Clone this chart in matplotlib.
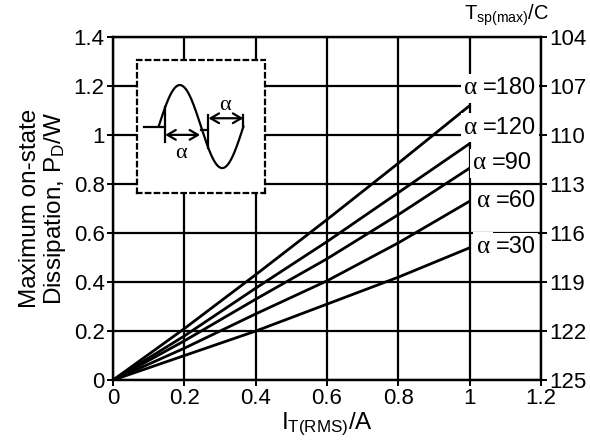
import numpy as np
import matplotlib.pyplot as plt

plt.rcParams['font.family'] = ['Liberation Sans', 'DejaVu Sans']
plt.rcParams['mathtext.fontset'] = 'custom'
plt.rcParams['mathtext.rm'] = 'Liberation Sans'
plt.rcParams['mathtext.it'] = 'Liberation Sans:italic'

# on-state current (A) and dissipation (W)
current = [0.0, 0.2, 0.4, 0.6, 0.8, 1.0]
angles = ['180', '120', '90', '60', '30']
p180 = [0.0, 0.21, 0.43, 0.655, 0.885, 1.12]
p120 = [0.0, 0.18, 0.375, 0.565, 0.765, 0.965]
p90 = [0.0, 0.16, 0.33, 0.495, 0.675, 0.865]
p60 = [0.0, 0.13, 0.27, 0.405, 0.56, 0.73]
p30 = [0.0, 0.10, 0.20, 0.31, 0.42, 0.54]
curves = [p180, p120, p90, p60, p30]
# where each alpha label sits (x, y in data units)
label_x = [0.985, 0.985, 1.01, 1.02, 1.02]
label_y = [1.19, 1.03, 0.885, 0.73, 0.545]

xticks = [0, 0.2, 0.4, 0.6, 0.8, 1, 1.2]
yticks = [0, 0.2, 0.4, 0.6, 0.8, 1, 1.2, 1.4]
tticks = [125, 122, 119, 116, 113, 110, 107, 104]

fig = plt.figure(figsize=(5.9, 4.43), dpi=100)
ax = fig.add_axes([0.1915, 0.142, 0.7255, 0.7745])

for p in curves:
    ax.plot(current, p, color='black', lw=2.0, zorder=3, solid_capstyle='butt')

ax.set_xlim(0, 1.2)
ax.set_ylim(0, 1.4)
ax.set_xticks(xticks)
ax.set_xticklabels(['0', '0.2', '0.4', '0.6', '0.8', '1', '1.2'])
ax.set_yticks(yticks)
ax.set_yticklabels(['0', '0.2', '0.4', '0.6', '0.8', '1', '1.2', '1.4'])
ax.grid(True, color='black', lw=1.6)
ax.set_axisbelow(True)
for s in ax.spines.values():
    s.set_linewidth(1.6)
ax.tick_params(labelsize=16, direction='out', length=4, width=1.4, pad=2)

ax.set_xlabel(r'I$_{\mathrm{T(RMS)}}$/A', fontsize=17.5, labelpad=1)
ax.set_ylabel('Maximum on-state\nDissipation, P$_{\\mathrm{D}}$/W', fontsize=17.5, labelpad=4, linespacing=1.05)

ax2 = ax.twinx()
ax2.set_ylim(125, 104)
ax2.set_yticks(tticks)
ax2.set_yticklabels([str(t) for t in tticks])
ax2.tick_params(labelsize=16, direction='out', length=4, width=1.4, pad=2)
for s in ax2.spines.values():
    s.set_linewidth(1.6)
fig.text(0.858, 0.966, r'T$_{\mathrm{sp(max)}}$/C', fontsize=14.5, ha='center', va='center')

for a, lx, ly in zip(angles, label_x, label_y):
    ax.annotate('=' + a, xy=(lx, ly), xytext=(13.5, 0), textcoords='offset points',
                fontsize=17, va='center', ha='left', zorder=5,
                bbox=dict(facecolor='white', edgecolor='none', pad=2.0))
    ax.text(lx, ly, 'α', family=['Liberation Serif'], fontsize=18, va='center', ha='left',
            zorder=6, bbox=dict(facecolor='white', edgecolor='none', pad=2.5))

# inset sketch of the phase-controlled waveform
ins = fig.add_axes([0.2322, 0.5643, 0.217, 0.300], zorder=4)
ins.set_facecolor('white')
ins.set_xlim(20, 405)
ins.set_ylim(-200, 200)
ins.set_xticks([])
ins.set_yticks([])
for s in ins.spines.values():
    s.set_linestyle((0, (2, 2)))
    s.set_linewidth(1.6)

theta = np.linspace(0, 2 * np.pi, 200)
wx = 85 + 255 * theta / (2 * np.pi)
ins.plot(wx, 125 * np.sin(theta), color='black', lw=1.6)
g1 = 85 + 255 * 0.49 / (2 * np.pi)
ins.plot([40, g1, g1], [0, 0, 125 * np.sin(0.49)], color='black', lw=1.6)
t2 = (235 - 85) / 255 * 2 * np.pi
ins.plot([212, 235, 235], [-10, -10, 125 * np.sin(t2)], color='black', lw=1.6)
ins.plot([g1, g1], [0, -45], color='black', lw=1.6)
ins.plot([340, 340], [35, 0], color='black', lw=1.6)
ins.plot([235, 235], [35, -10], color='black', lw=1.6)
arr = dict(arrowstyle='<->,head_length=0.6,head_width=0.35', color='black', lw=1.6,
           shrinkA=0, shrinkB=0)
ins.annotate('', xy=(g1, -25), xytext=(210, -25), arrowprops=arr)
ins.annotate('', xy=(235, 25), xytext=(340, 25), arrowprops=arr)
ins.text(152, -82, 'α', family=['Liberation Serif'], fontsize=16, ha='center', va='center')
ins.text(285, 62, 'α', family=['Liberation Serif'], fontsize=16, ha='center', va='center')

fig.savefig('out.png', dpi=100)
